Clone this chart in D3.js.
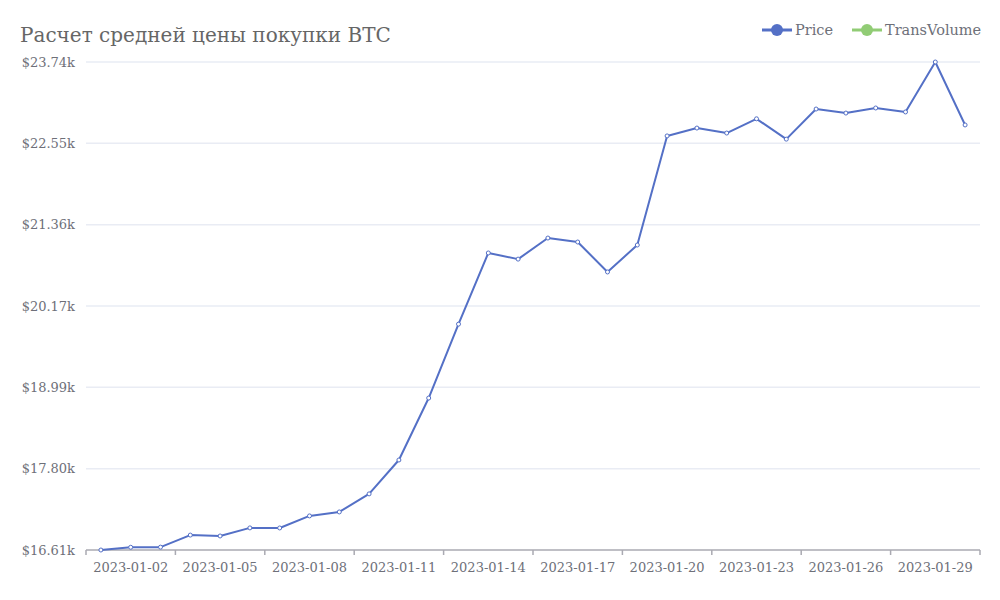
<!DOCTYPE html>
<html>
<head>
<meta charset="utf-8">
<script src="https://cdn.jsdelivr.net/npm/d3@7"></script>
<style>
  html, body { margin: 0; padding: 0; background: #fff; }
  svg { display: block; }
  text { font-family: "DejaVu Serif", serif; }
</style>
</head>
<body>
<svg id="chart" width="1000" height="600"></svg>
<script>
const dates = ["2023-01-01","2023-01-02","2023-01-03","2023-01-04","2023-01-05","2023-01-06","2023-01-07","2023-01-08","2023-01-09","2023-01-10",
  "2023-01-11","2023-01-12","2023-01-13","2023-01-14","2023-01-15","2023-01-16","2023-01-17","2023-01-18","2023-01-19","2023-01-20",
  "2023-01-21","2023-01-22","2023-01-23","2023-01-24","2023-01-25","2023-01-26","2023-01-27","2023-01-28","2023-01-29","2023-01-30"];
const price = [16610,16650,16652,16828,16815,16933,16932,17108,17166,17430,
  17925,18830,19910,20950,20860,21168,21110,20672,21066,22660,
  22775,22702,22910,22613,23053,22994,23068,23010,23740,22820];
const yTicks = [16610,17798,18987,20175,21363,22552,23740];
const yTickLabels = ["$16.61k","$17.80k","$18.99k","$20.17k","$21.36k","$22.55k","$23.74k"];
const seriesNames = ["Price","TransVolume"];
const seriesColors = ["#5470c6","#91cc75"];
const titleText = "Расчет средней цены покупки BTC";

const svg = d3.select("#chart");
const m = {left: 86, right: 20, top: 62, bottom: 50};
const W = 1000, H = 600;

const x = d3.scaleBand().domain(dates).range([m.left, W - m.right]);
const y = d3.scaleLinear().domain([yTicks[0], yTicks[yTicks.length-1]]).range([H - m.bottom, m.top]);

// title
svg.append("text").attr("x", 20).attr("y", 42).attr("font-size", 20).attr("fill", "#666").text(titleText);

// grid
svg.append("g").selectAll("line").data(yTicks.slice(1)).join("line")
  .attr("x1", m.left).attr("x2", W - m.right)
  .attr("y1", d => y(d)).attr("y2", d => y(d))
  .attr("stroke", "#E9ECF4").attr("stroke-width", 1.5);

// y labels
svg.append("g").selectAll("text").data(yTicks).join("text")
  .attr("x", 75).attr("y", d => y(d)).attr("dy", "0.35em")
  .attr("text-anchor", "end").attr("font-size", 13).attr("fill", "#6e7079")
  .text((d, i) => yTickLabels[i]);

// x axis
const xa = svg.append("g");
xa.append("line").attr("x1", m.left).attr("x2", W - m.right)
  .attr("y1", y(yTicks[0])).attr("y2", y(yTicks[0]))
  .attr("stroke", "#aaaab2").attr("stroke-width", 1.5);
const tickIdx = d3.range(0, dates.length + 1, 3);
xa.selectAll("line.t").data(tickIdx).join("line").attr("class", "t")
  .attr("x1", i => i < dates.length ? x(dates[i]) : x.range()[1])
  .attr("x2", i => i < dates.length ? x(dates[i]) : x.range()[1])
  .attr("y1", y(yTicks[0])).attr("y2", y(yTicks[0]) + 5)
  .attr("stroke", "#aaaab2").attr("stroke-width", 1.5);
const labelIdx = d3.range(1, dates.length, 3);
xa.selectAll("text").data(labelIdx).join("text")
  .attr("x", i => x(dates[i]) + x.bandwidth()/2).attr("y", 572)
  .attr("text-anchor", "middle").attr("font-size", 13).attr("fill", "#6e7079")
  .text(i => dates[i]);

// line
const line = d3.line().x((d, i) => x(dates[i]) + x.bandwidth()/2).y(d => y(d));
svg.append("path").datum(price).attr("d", line)
  .attr("fill", "none").attr("stroke", seriesColors[0]).attr("stroke-width", 2).attr("stroke-linejoin", "round");
svg.append("g").selectAll("circle").data(price).join("circle")
  .attr("cx", (d, i) => x(dates[i]) + x.bandwidth()/2).attr("cy", d => y(d)).attr("r", 2)
  .attr("fill", "#fff").attr("stroke", seriesColors[0]).attr("stroke-width", 1);

// legend
const legX = [762, 852];
const lg = svg.append("g").selectAll("g").data(seriesNames).join("g")
  .attr("transform", (d, i) => `translate(${legX[i]},30)`);
lg.append("line").attr("x1", 0).attr("x2", 30).attr("y1", 0).attr("y2", 0)
  .attr("stroke", (d, i) => seriesColors[i]).attr("stroke-width", 3);
lg.append("circle").attr("cx", 15).attr("cy", 0).attr("r", 6).attr("fill", (d, i) => seriesColors[i]);
lg.append("text").attr("x", 33).attr("y", 0).attr("dy", "0.35em").attr("font-size", 14.5).attr("fill", "#6e7079").text(d => d);
</script>
</body>
</html>
